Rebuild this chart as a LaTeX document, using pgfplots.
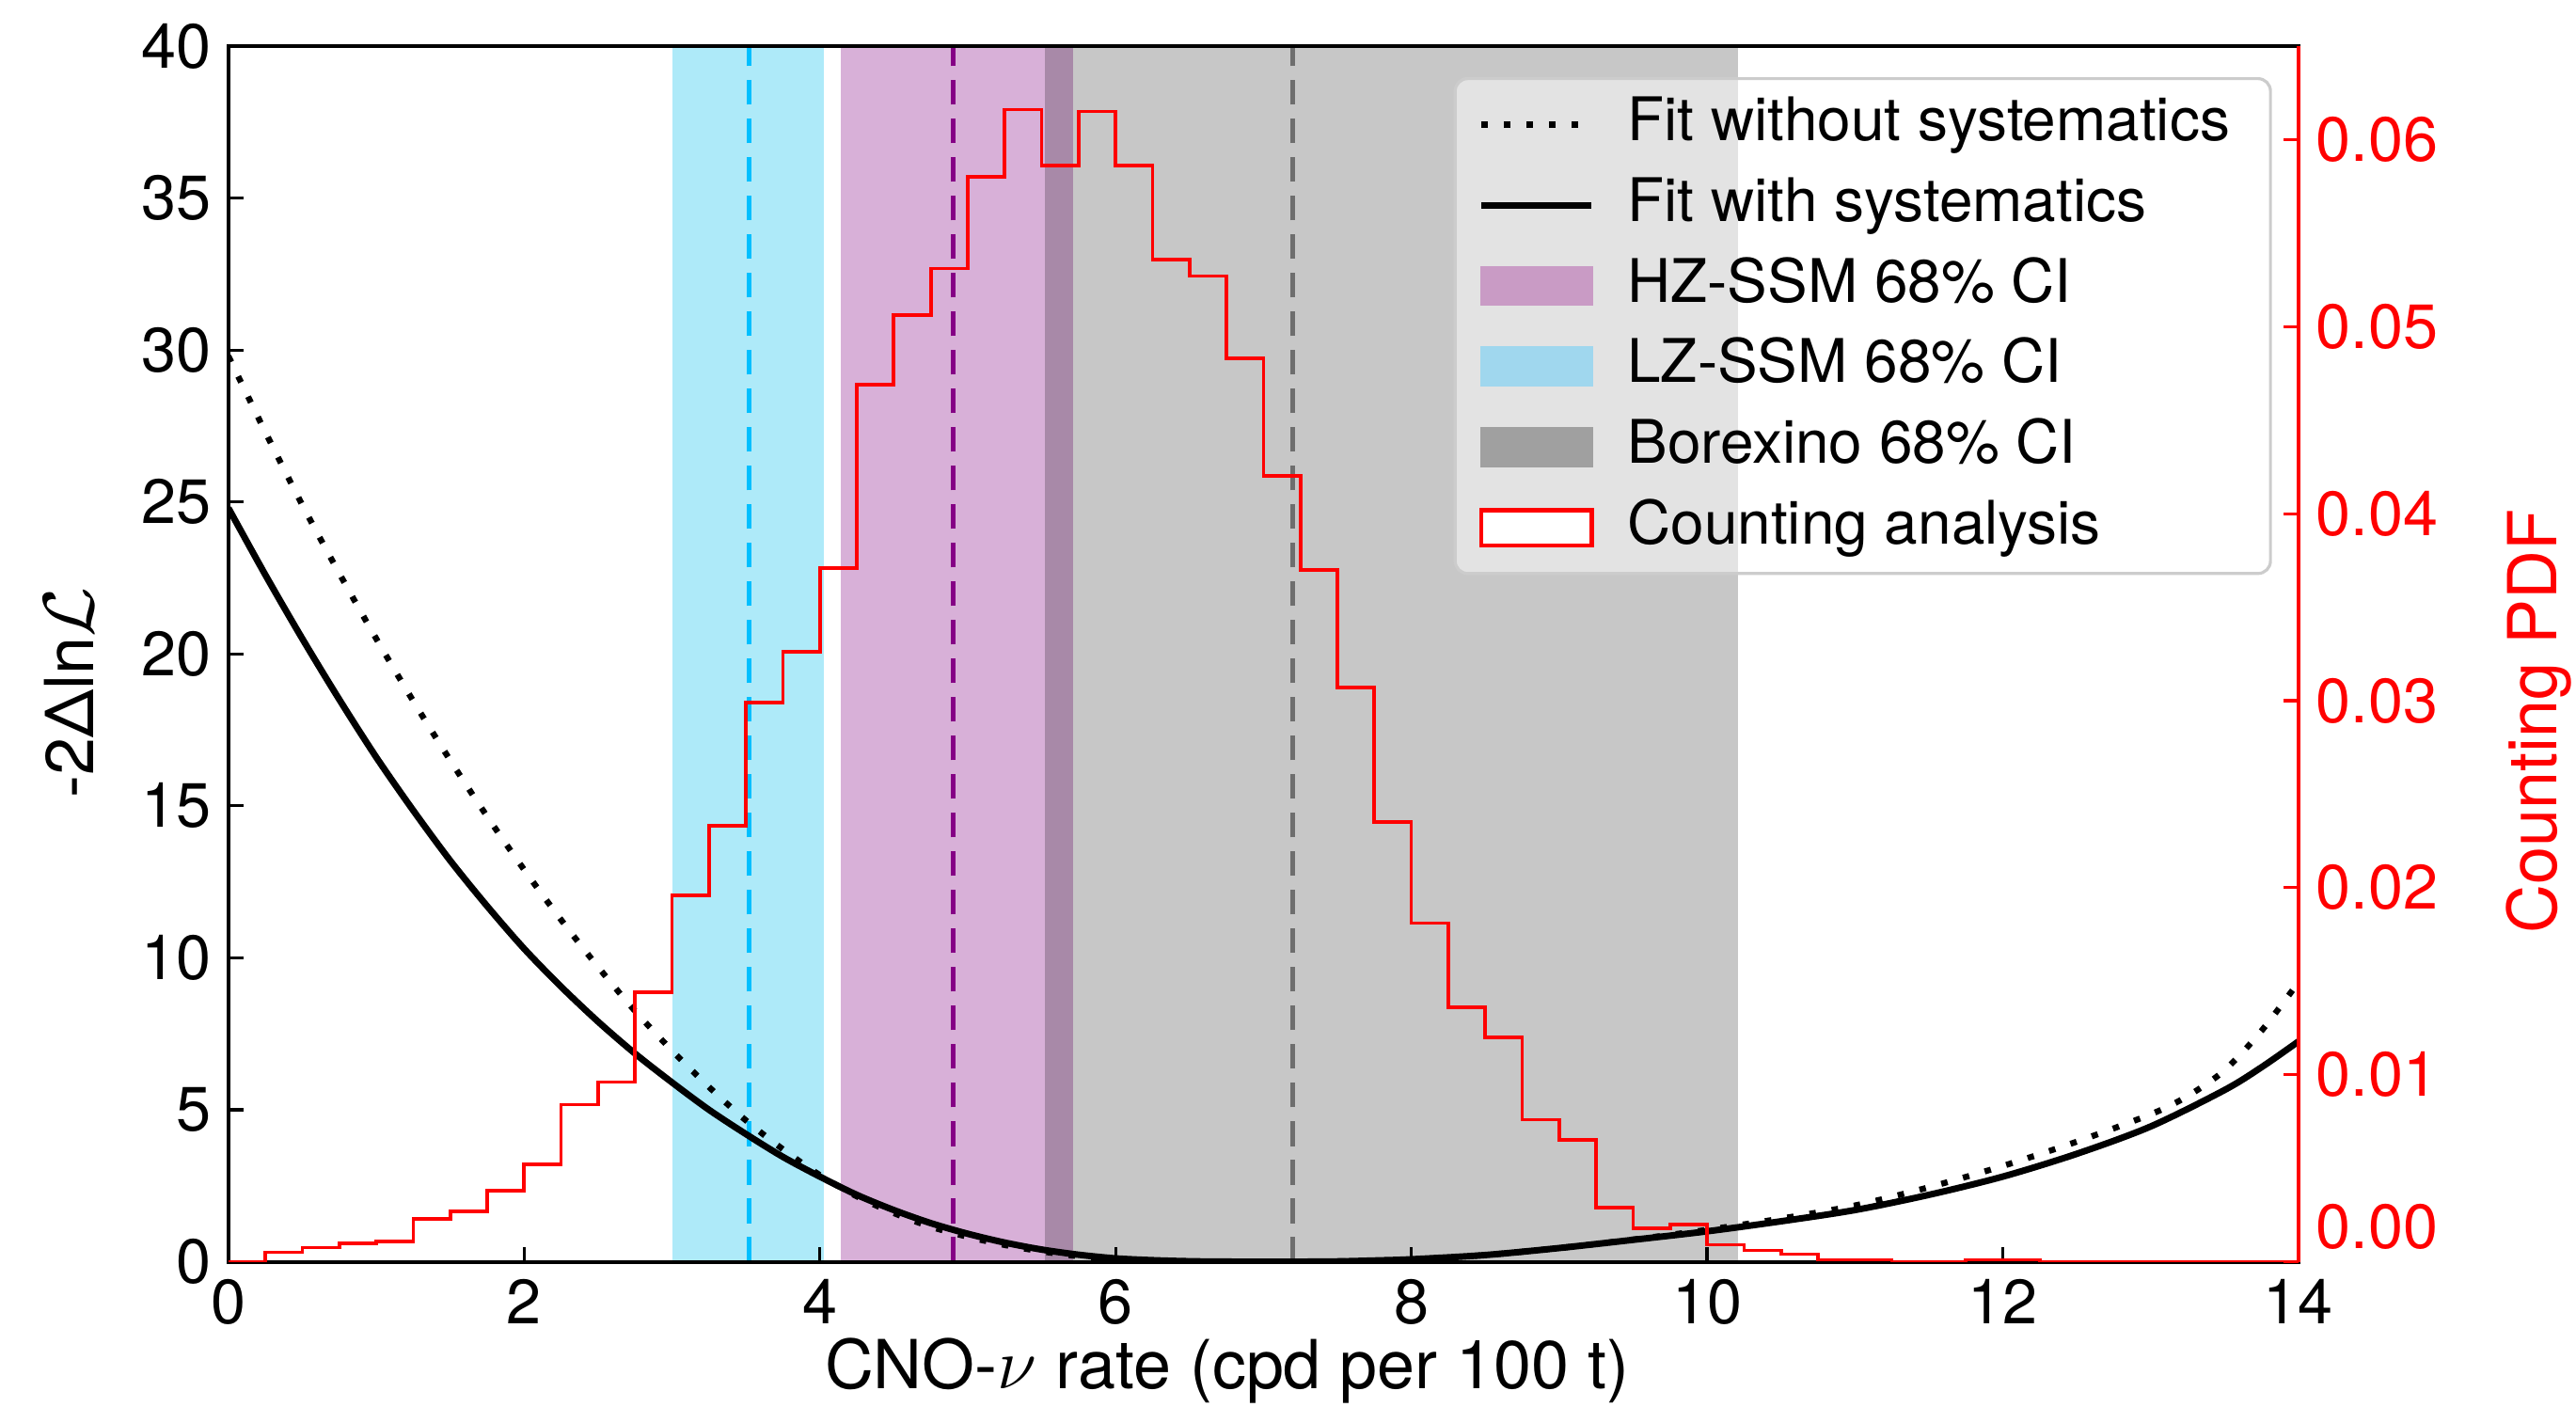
\documentclass[border=0pt]{standalone}
\usepackage{fontspec}
\setmainfont{TeX Gyre Heros}
\usepackage{pgfplots}
\pgfplotsset{compat=1.18}

\definecolor{lzband}{HTML}{AEEAF9}
\definecolor{hzband}{HTML}{D8B0D8}
\definecolor{lzline}{HTML}{00BFFF}
\definecolor{hzline}{HTML}{850085}
\definecolor{bxline}{HTML}{6E6E6E}
\definecolor{hzleg}{HTML}{C99BC5}
\definecolor{lzleg}{HTML}{A0D7EE}
\definecolor{bxleg}{HTML}{A0A0A0}

\begin{document}
\begin{tikzpicture}
\pgfplotsset{
  commonax/.style={
    scale only axis, width=413.3pt, height=242.7pt,
    xmin=0, xmax=14,
    tick align=inside,
    major tick length=3pt,
    /pgf/number format/assume math mode=true,
    tick label style={font=\fontsize{12.5}{15}\selectfont},
  }
}
\begin{axis}[commonax,
  ymin=0, ymax=40,
  xtick={0,2,4,6,8,10,12,14}, ytick={0,5,10,15,20,25,30,35,40},
  xtick pos=left, ytick pos=left,
  axis on top,
  axis line style={line width=0.75pt},
  every tick/.style={black, line width=0.6pt},
  xlabel={CNO-$\nu$ rate (cpd per 100 t)},
  ylabel={-2Δln$\mathcal{L}$},
  every axis x label/.style={at={(rel axis cs:0.4825,-0.0895)}, anchor=center, inner sep=0pt, font=\fontsize{13.5}{16}\selectfont},
  every axis y label/.style={at={(rel axis cs:-0.0772,0.468)}, rotate=90, anchor=center, inner sep=0pt, font=\fontsize{13.5}{16}\selectfont},
]
% bands
\addplot[fill=lzband, draw=none, forget plot] coordinates {(3.00,0) (4.03,0) (4.03,40) (3.00,40)} -- cycle;
\addplot[fill=hzband, draw=none, forget plot] coordinates {(4.14,0) (5.71,0) (5.71,40) (4.14,40)} -- cycle;
\addplot[fill=black, fill opacity=0.22, draw=none, forget plot] coordinates {(5.52,0) (10.21,0) (10.21,40) (5.52,40)} -- cycle;
% central values
\addplot[lzline, line width=0.9pt, dash pattern=on 5pt off 2.7pt, forget plot] coordinates {(3.52,0) (3.52,40)};
\addplot[hzline, line width=0.9pt, dash pattern=on 5pt off 2.7pt, forget plot] coordinates {(4.90,0) (4.90,40)};
\addplot[bxline, line width=0.9pt, dash pattern=on 5pt off 2.7pt, forget plot] coordinates {(7.20,0) (7.20,40)};
% fit without systematics
\addplot[black, line width=1.2pt, dash pattern=on 1.3pt off 3.2pt, smooth, forget plot] coordinates {
(0.00,29.8) (0.25,27.3) (0.50,24.9) (0.75,22.65) (1.00,20.5) (1.25,18.45) (1.50,16.5)
(1.75,14.65) (2.00,12.9) (2.25,11.25) (2.50,9.7) (2.75,8.25) (3.00,6.95) (3.25,5.75)
(3.50,4.65) (3.75,3.7) (4.00,2.85) (4.25,2.15) (4.50,1.6) (4.75,1.15) (5.00,0.82)
(5.25,0.55) (5.50,0.34) (5.75,0.18) (6.00,0.08) (6.50,0.01) (7.00,0.0) (7.20,0.0)
(7.50,0.01) (8.00,0.07) (8.50,0.22) (9.00,0.45) (9.50,0.73) (10.00,1.05) (10.50,1.42)
(11.00,1.85) (11.50,2.45) (12.00,3.15) (12.50,3.95) (13.00,4.85) (13.25,5.45)
(13.50,6.3) (13.75,7.6) (14.00,9.2)};
% fit with systematics
\addplot[black, line width=1.3pt, smooth, forget plot] coordinates {
(0.00,24.8) (0.25,22.6) (0.50,20.5) (0.75,18.5) (1.00,16.6) (1.25,14.85) (1.50,13.2)
(1.75,11.7) (2.00,10.3) (2.25,9.05) (2.50,7.9) (2.75,6.85) (3.00,5.9) (3.25,5.0)
(3.50,4.2) (3.75,3.45) (4.00,2.8) (4.25,2.2) (4.50,1.7) (4.75,1.27) (5.00,0.92)
(5.25,0.63) (5.50,0.4) (5.75,0.23) (6.00,0.11) (6.25,0.05) (6.50,0.015) (6.75,0.003)
(7.00,0.0) (7.20,0.0) (7.50,0.01) (7.75,0.04) (8.00,0.08) (8.50,0.22) (9.00,0.45)
(9.50,0.72) (10.00,1.0) (10.50,1.33) (11.00,1.7) (11.50,2.2) (12.00,2.8) (12.50,3.55)
(13.00,4.45) (13.50,5.65) (13.75,6.4) (14.00,7.25)};
\end{axis}

\begin{axis}[commonax,
  ymin=0, ymax=0.065,
  axis y line*=right, axis x line=none,
  ytick={0.01,0.02,0.03,0.04,0.05,0.06},
  extra y ticks={0},
  extra y tick style={yticklabel style={yshift=7pt}},
  scaled y ticks=false,
  yticklabel={\pgfmathprintnumber[fixed,fixed zerofill,precision=2]{\tick}},
  yticklabel style={text=red},
  y axis line style={red, line width=0.75pt},
  ytick style={red, line width=0.6pt},
  ylabel={Counting PDF},
  every axis y label/.style={at={(rel axis cs:1.1163,0.4445)}, rotate=90, anchor=center, inner sep=0pt, text=red, font=\fontsize{13.5}{16}\selectfont},
  legend style={
    at={(rel axis cs:1,1)}, anchor=north east, xshift=-5.3pt, yshift=-6.2pt,
    draw=black!20, line width=0.6pt, rounded corners=2.5pt,
    fill=white, fill opacity=0.5, text opacity=1, draw opacity=1,
    font=\fontsize{12}{14}\selectfont,
    inner xsep=4.6pt, inner ysep=2.9pt,
    nodes={inner sep=0pt, text height=9.5pt, text depth=3pt},
    row sep=3.6pt, column sep=6.5pt,
  },
  legend cell align=left,
]
\addplot[red, line width=0.7pt, const plot, forget plot] coordinates {
(0.00,0.0000) (0.25,0.0005) (0.50,0.00075) (0.75,0.0010) (1.00,0.0011)
(1.25,0.0023) (1.50,0.0027) (1.75,0.0038) (2.00,0.0052) (2.25,0.0084)
(2.50,0.0096) (2.75,0.0144) (3.00,0.0196) (3.25,0.0233) (3.50,0.0299)
(3.75,0.0326) (4.00,0.0371) (4.25,0.0469) (4.50,0.0506) (4.75,0.0531)
(5.00,0.0580) (5.25,0.0616) (5.50,0.0586) (5.75,0.0615) (6.00,0.0586)
(6.25,0.0536) (6.50,0.0527) (6.75,0.0483) (7.00,0.0420) (7.25,0.0370)
(7.50,0.0307) (7.75,0.0235) (8.00,0.0181) (8.25,0.0136) (8.50,0.0120)
(8.75,0.0076) (9.00,0.0065) (9.25,0.0029) (9.50,0.0018) (9.75,0.0020)
(10.00,0.0009) (10.25,0.0006) (10.50,0.0004) (10.75,0.0001) (11.00,0.0001)
(11.25,0.0000) (11.50,0.0000) (11.75,0.0001) (12.00,0.0001) (12.25,0.0000)
(14.00,0.0000)};
\addlegendimage{legend image code/.code={\draw[black, line width=1.2pt, dash pattern=on 1.3pt off 3.2pt, sharp corners] (0pt,0pt) -- (22pt,0pt);}}
\addlegendentry{Fit without systematics\rule{3.5pt}{0pt}}
\addlegendimage{legend image code/.code={\draw[black, line width=1.3pt, sharp corners] (0pt,0pt) -- (22pt,0pt);}}
\addlegendentry{Fit with systematics}
\addlegendimage{legend image code/.code={\fill[hzleg, fill opacity=1, sharp corners] (0pt,-3.7pt) rectangle (22pt,3.7pt);}}
\addlegendentry{HZ-SSM 68\% CI}
\addlegendimage{legend image code/.code={\fill[lzleg, fill opacity=1, sharp corners] (0pt,-3.7pt) rectangle (22pt,3.7pt);}}
\addlegendentry{LZ-SSM 68\% CI}
\addlegendimage{legend image code/.code={\fill[bxleg, fill opacity=1, sharp corners] (0pt,-3.7pt) rectangle (22pt,3.7pt);}}
\addlegendentry{Borexino 68\% CI}
\addlegendimage{legend image code/.code={\filldraw[fill=white, draw=red, fill opacity=1, line width=0.8pt, sharp corners] (0pt,-3.5pt) rectangle (22pt,3.5pt);}}
\addlegendentry{Counting analysis}
\end{axis}
\pgfresetboundingbox
\path (-45.6pt,-29.0pt) rectangle (468.7pt,251.9pt);
\end{tikzpicture}
\end{document}
